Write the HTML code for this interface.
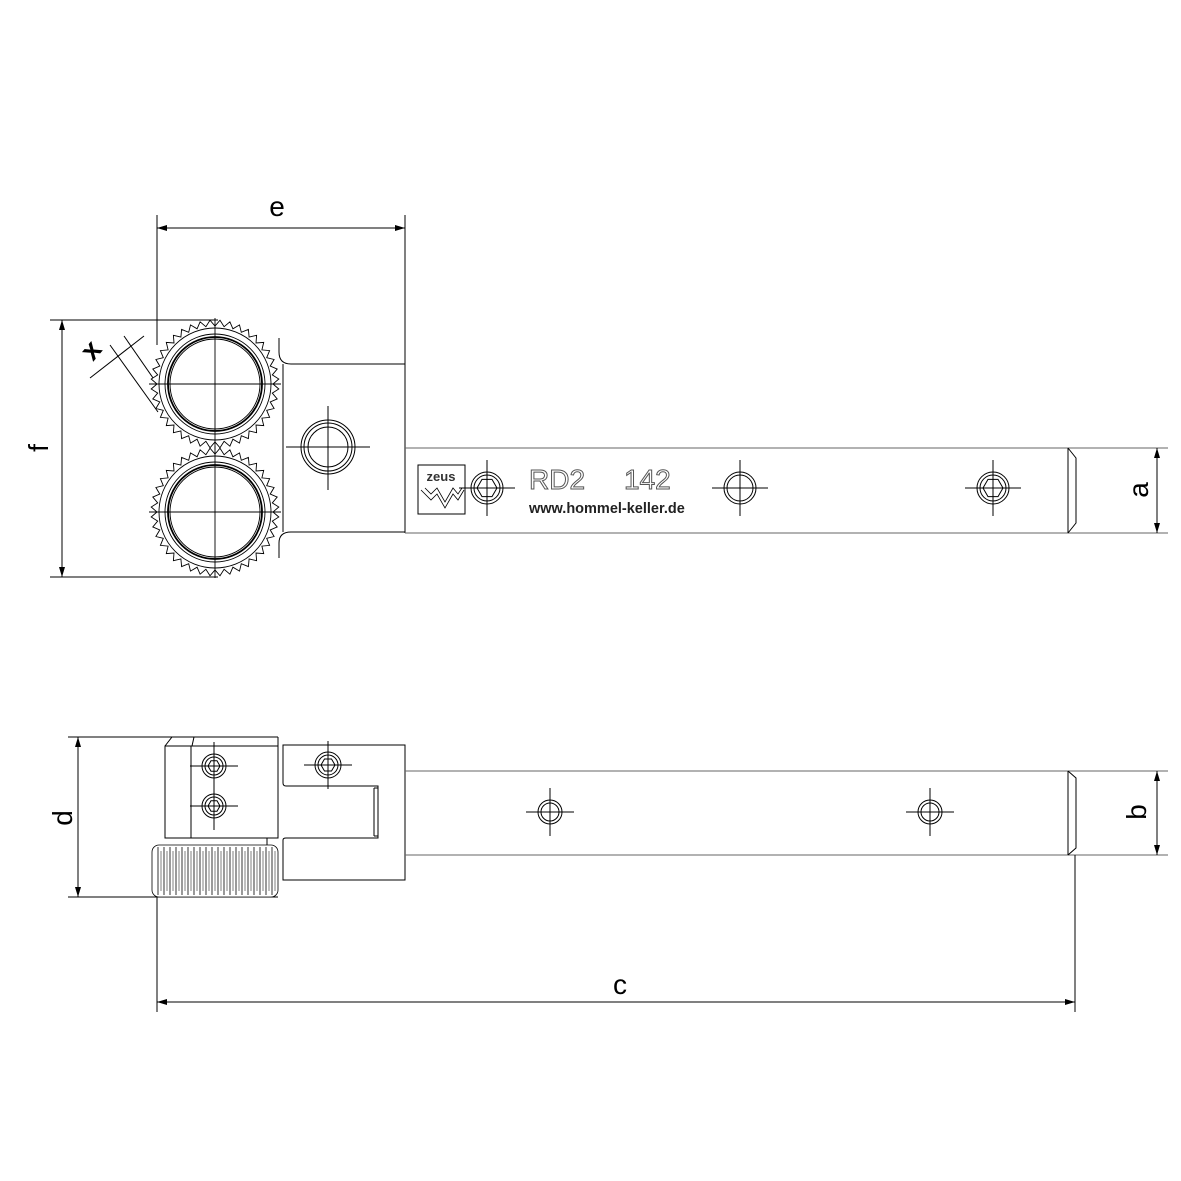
<!DOCTYPE html>
<html><head><meta charset="utf-8"><style>
html,body{margin:0;padding:0;background:#fff;}
svg{display:block;}
text{font-family:"Liberation Sans",sans-serif;}
</style></head><body>
<svg id="s" width="1181" height="1181" viewBox="0 0 1181 1181" xmlns="http://www.w3.org/2000/svg">
<defs>
<marker id="ar" viewBox="0 0 10 6" refX="10" refY="3" markerWidth="10" markerHeight="6" orient="auto-start-reverse" markerUnits="userSpaceOnUse"><path d="M0,0L10,3L0,6z" fill="#000"/></marker>
</defs>
<g stroke="#000" stroke-width="1" fill="none">
<line x1="157" y1="215" x2="157" y2="345"/>
<line x1="405" y1="215" x2="405" y2="364"/>
<line x1="157" y1="228" x2="405" y2="228" marker-start="url(#ar)" marker-end="url(#ar)"/>
<line x1="50" y1="320" x2="218" y2="320"/>
<line x1="50" y1="577" x2="218" y2="577"/>
<line x1="62" y1="320" x2="62" y2="577" marker-start="url(#ar)" marker-end="url(#ar)"/>
<line x1="110" y1="345" x2="158" y2="412"/>
<line x1="124" y1="336" x2="160" y2="388"/>
<line x1="90" y1="378" x2="144" y2="336"/>
<path d="M279,338 L279,352 Q279,364 291,364 L405,364"/>
<path d="M279,558 L279,543 Q279,532 291,532 L405,532"/>
<line x1="283" y1="364" x2="283" y2="532"/>
<circle cx="328" cy="447" r="27"/><circle cx="328" cy="447" r="24"/><circle cx="328" cy="447" r="20"/>
<line x1="286" y1="447" x2="370" y2="447"/><line x1="328" y1="406" x2="328" y2="490"/>
<line x1="405" y1="364" x2="405" y2="533"/>
<line x1="405" y1="448" x2="1168" y2="448" stroke="#666"/>
<line x1="405" y1="533" x2="1168" y2="533" stroke="#666"/>
<line x1="1068" y1="448" x2="1068" y2="533"/>
<path d="M1068,448 L1076,458 L1076,523 L1068,533"/>
<line x1="1157" y1="448" x2="1157" y2="533" marker-start="url(#ar)" marker-end="url(#ar)"/>
<rect x="418" y="465" width="47" height="49"/>
<path d="M421,490 L431,500 L437,494 L445,508 L453,494 L458,500 L464,490 M425,488 L431,494 L437,488 L445,502 L453,488 L458,494 L462,488" stroke-width="0.8"/>
</g>
<text x="441" y="481" font-size="13" text-anchor="middle" fill="#333" font-weight="bold">zeus</text>
<g id="screwsTop" stroke="#000" fill="none"></g>
<g id="gears" stroke="#000" fill="none" stroke-width="0.9"></g>
<text x="277" y="216" font-size="28" text-anchor="middle">e</text>
<text transform="translate(48,448) rotate(-90)" font-size="28" text-anchor="middle">f</text>
<text transform="translate(98,356) rotate(-50)" font-size="28" text-anchor="middle" font-weight="bold">x</text>
<text transform="translate(1148,490) rotate(-90)" font-size="28" text-anchor="middle">a</text>
<text x="529" y="489" font-size="28" fill="#fff" stroke="#555" stroke-width="1">RD2</text>
<text x="624" y="489" font-size="28" fill="#fff" stroke="#555" stroke-width="1">142</text>
<text x="529" y="513" font-size="14.5" font-weight="bold" fill="#222">www.hommel-keller.de</text>

<g stroke="#000" stroke-width="1" fill="none">
<line x1="68" y1="737" x2="278" y2="737"/>
<line x1="68" y1="897" x2="278" y2="897"/>
<line x1="78" y1="737" x2="78" y2="897" marker-start="url(#ar)" marker-end="url(#ar)"/>
<path d="M165,746 L172,737 L194,737 L192,746"/>
<rect x="165" y="746" width="113" height="92"/>
<line x1="191" y1="746" x2="191" y2="838"/>
<line x1="278" y1="737" x2="278" y2="746"/>
<line x1="267" y1="838" x2="267" y2="845"/>
<path d="M283,745 L405,745 L405,880 L283,880 L283,840 Q283,838 286,838 L378,838 L378,786 L286,786 Q283,786 283,783 Z"/>
<line x1="374" y1="788" x2="374" y2="836"/>
<line x1="374" y1="788" x2="378" y2="788"/><line x1="374" y1="836" x2="378" y2="836"/>
<line x1="405" y1="771" x2="1168" y2="771" stroke="#666"/>
<line x1="405" y1="855" x2="1168" y2="855" stroke="#666"/>
<line x1="1068" y1="771" x2="1068" y2="855"/>
<path d="M1068,771 L1076,778 L1076,848 L1068,855"/>
<line x1="1157" y1="771" x2="1157" y2="855" marker-start="url(#ar)" marker-end="url(#ar)"/>
<line x1="157" y1="897" x2="157" y2="1012"/>
<line x1="1075" y1="855" x2="1075" y2="1012"/>
<line x1="157" y1="1002" x2="1075" y2="1002" marker-start="url(#ar)" marker-end="url(#ar)"/>
</g>
<g id="knurl" stroke="#000" fill="none" stroke-width="0.8"></g>
<text transform="translate(72,818) rotate(-90)" font-size="28" text-anchor="middle">d</text>
<text transform="translate(1146,812) rotate(-90)" font-size="28" text-anchor="middle">b</text>
<text x="620" y="994" font-size="28" text-anchor="middle">c</text>
</svg>
<script>
var NS="http://www.w3.org/2000/svg";
function el(p,t,a){var e=document.createElementNS(NS,t);for(var k in a)e.setAttribute(k,a[k]);p.appendChild(e);return e;}
var g=document.getElementById('gears');
[[215,384],[215,512]].forEach(function(c){
 var cx=c[0],cy=c[1],n=40,d="";
 for(var i=0;i<n;i++){
  var a0=i/n*2*Math.PI,a1=(i+0.5)/n*2*Math.PI;
  d+=(i?"L":"M")+(cx+58*Math.cos(a0)).toFixed(1)+","+(cy+58*Math.sin(a0)).toFixed(1);
  d+="L"+(cx+64*Math.cos(a1)).toFixed(1)+","+(cy+64*Math.sin(a1)).toFixed(1);
 }
 el(g,'path',{d:d+"Z",fill:"#fff"});
 [56,50,47,45].forEach(function(r){el(g,'circle',{cx:cx,cy:cy,r:r,"stroke-width":r==47?1.8:0.9});});
 el(g,'line',{x1:cx-66,y1:cy,x2:cx+66,y2:cy});
 el(g,'line',{x1:cx,y1:cy-66,x2:cx,y2:cy+66});
});
var s=document.getElementById('screwsTop');
function screw(cx,cy,r,hex,arm){
 el(s,'circle',{cx:cx,cy:cy,r:r});el(s,'circle',{cx:cx,cy:cy,r:r-3});
 if(hex){var d="";for(var i=0;i<6;i++){var a=i*Math.PI/3;d+=(i?"L":"M")+(cx+(r-6)*Math.cos(a))+","+(cy+(r-6)*Math.sin(a));}el(s,'path',{d:d+"Z"});}
 el(s,'line',{x1:cx-arm,y1:cy,x2:cx+arm,y2:cy});el(s,'line',{x1:cx,y1:cy-arm,x2:cx,y2:cy+arm});
}
screw(487,488,16,true,28);screw(740,488,16,false,28);screw(993,488,16,true,28);
screw(214,766,12,true,24);screw(214,806,12,true,24);screw(328,765,13,true,24);
screw(550,812,12,false,24);screw(930,812,12,false,24);
var k=document.getElementById('knurl');
el(k,'rect',{x:152,y:845,width:126,height:52,rx:7,fill:"#fff"});
for(var x=158;x<274;x+=6){el(k,'line',{x1:x,y1:847,x2:x,y2:895});el(k,'line',{x1:x+3,y1:851,x2:x+3,y2:891,"stroke-width":0.5});}
</script>
</body></html>
